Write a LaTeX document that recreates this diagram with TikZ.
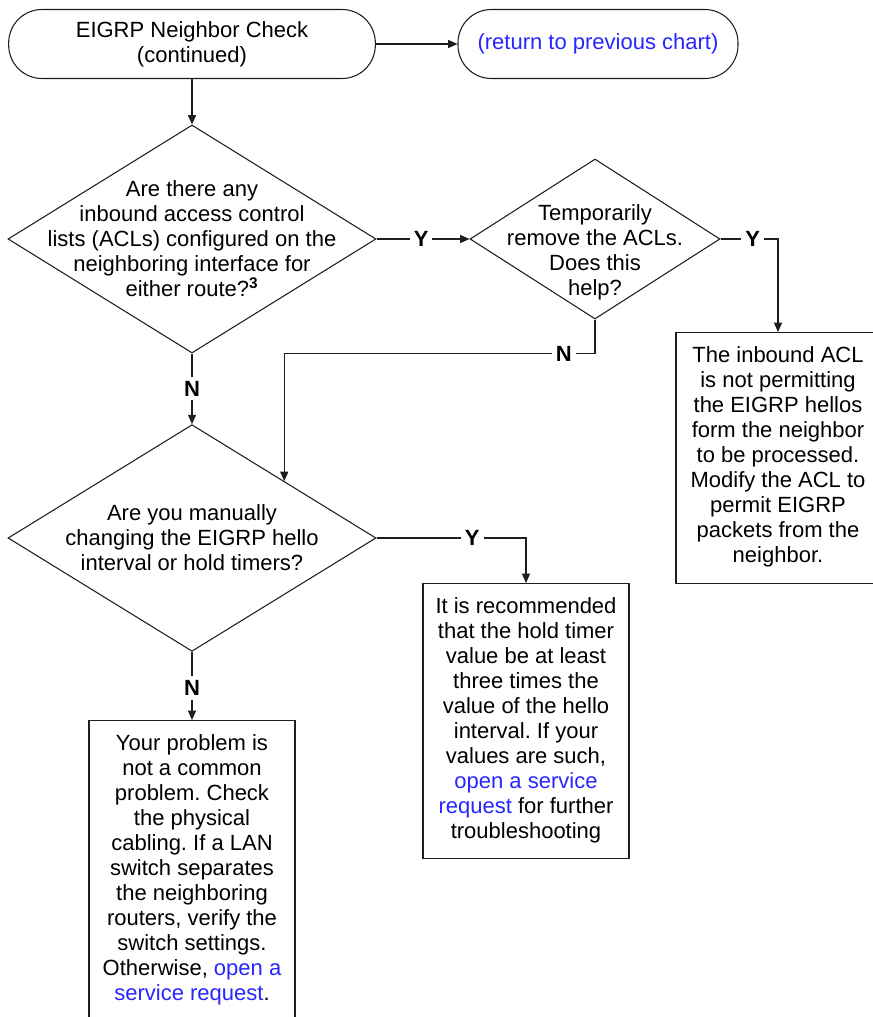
\documentclass[tikz,border=0pt]{standalone}
\usepackage{fontspec}
\setmainfont{Liberation Sans}
\usetikzlibrary{shapes.geometric,arrows.meta}
\definecolor{ink}{HTML}{1E1E1E}
\definecolor{link}{HTML}{2626FF}
\newcommand\chartfont{\fontsize{16.5}{18.75}\selectfont}
\frenchspacing

\tikzset{
  term/.style={draw=ink,line width=0.8pt,rounded corners=25pt,minimum height=51.75pt,font=\chartfont,align=center,inner sep=0pt},
  decision/.style={draw=ink,line width=0.8pt,diamond,inner sep=0pt},
  stepbox/.style={draw=ink,line width=0.9pt,anchor=north,inner xsep=2pt,inner ysep=10.75pt,font=\chartfont},
  flow/.style={draw=ink,line width=0.8pt,-{Triangle[length=7pt,width=6pt]}},
  yn/.style={font=\chartfont\bfseries,fill=white,inner sep=3pt}
}

\begin{document}
\begin{tikzpicture}[x=0.75pt,y=-0.75pt]
\useasboundingbox (0,0) rectangle (873,1017);
\clip (0,0) rectangle (873,1017);
\node[term,minimum width=275pt] (start) at (192,44) {EIGRP Neighbor Check\\(continued)};
\node[term,minimum width=210pt,text=link] (back) at (598,44) {(return to previous chart)};
\node[decision,minimum width=276pt,minimum height=171pt] (acl) at (192,239) {};
\node[font=\chartfont,align=center] (acltxt) at (acl) {Are there any\\inbound access control\\lists (ACLs) configured on the\\neighboring interface for\\either route?\textsuperscript{\bfseries 3}};
\node[decision,minimum width=187.5pt,minimum height=120pt] (rm) at (595,239) {};
\node[font=\chartfont,align=center] (rmtxt) at (595,252) {Temporarily\\remove the ACLs.\\Does this\\help?};
\node[decision,minimum width=276pt,minimum height=170pt] (timer) at (192,538) {};
\node[font=\chartfont,align=center] (timertxt) at (timer) {Are you manually\\changing the EIGRP hello\\interval or hold timers?};
\node[stepbox] (permit) at (778,332) {\parbox[t][166.75pt][t]{149pt}{\centering
  The inbound ACL\\is not permitting\\the EIGRP hellos\\form the neighbor\\to be processed.\\Modify the ACL to\\permit EIGRP\\packets from the\\neighbor.}};
\node[stepbox] (recommend) at (526,583) {\parbox[t][184.75pt][t]{150.5pt}{\centering
  It is recommended\\that the hold timer\\value be at least\\three times the\\value of the hello\\interval. If your\\values are such,\\\textcolor{link}{open a service}\\\textcolor{link}{request} for further\\troubleshooting}};
\node[stepbox] (common) at (192,720) {\parbox[t][223pt][t]{150.5pt}{\centering
  Your problem is\\not a common\\problem. Check\\the physical\\cabling. If a LAN\\switch separates\\the neighboring\\routers, verify the\\switch settings.\\Otherwise, \textcolor{link}{open a}\\\textcolor{link}{service request}.}};
\draw[flow] (start) -- (back);
\draw[flow] (start) -- (acl);
\draw[flow] (acl) -- node[yn,pos=0.48]{Y} (rm);
\draw[flow] (rm.east) -| node[yn,pos=0.28]{Y} (permit.north);
\draw[flow] (rm.south) -- ++(0,34) -| node[yn,pos=0.05]{N} (timer.north east);
\draw[flow] (acl) -- node[yn]{N} (timer);
\draw[flow] (timer.east) -| node[yn,pos=0.32]{Y} (recommend.north);
\draw[flow] (timer) -- node[yn,pos=0.53]{N} (common);
\end{tikzpicture}
\end{document}
